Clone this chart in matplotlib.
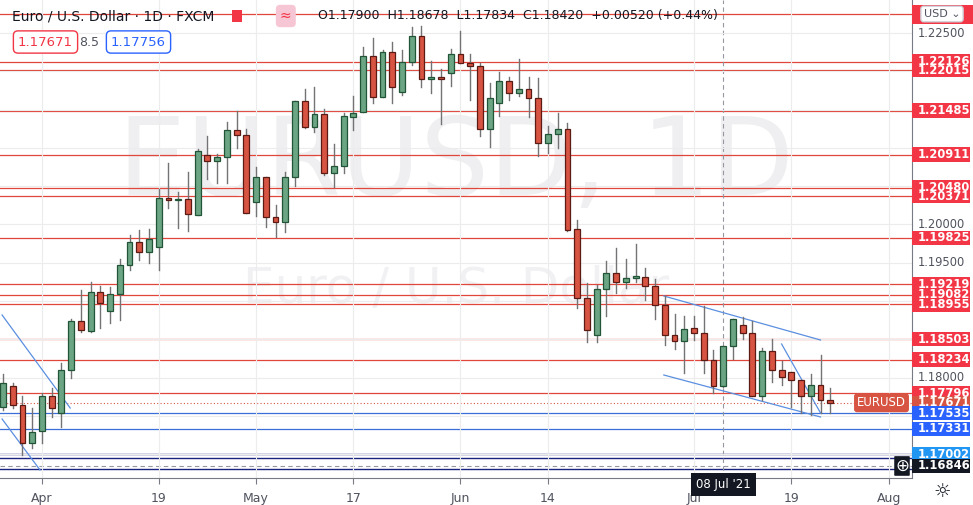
import numpy as np
import matplotlib.pyplot as plt
from matplotlib.patches import Rectangle
import matplotlib.transforms as mtransforms

# EURUSD daily candles, 26 Mar 2021 .. 23 Jul 2021
opens = [1.17616, 1.17891, 1.17643, 1.17146, 1.17303, 1.17760, 1.17538, 1.18100, 1.18739, 1.18609,
         1.19118, 1.18870, 1.19092, 1.19471, 1.19771, 1.19640, 1.19706, 1.20346, 1.20319, 1.20333,
         1.20124, 1.20907, 1.20829, 1.20881, 1.21233, 1.21168, 1.20293, 1.20620, 1.20097, 1.20032,
         1.20620, 1.21612, 1.21273, 1.21442, 1.20672, 1.20763, 1.21403, 1.21469, 1.22200, 1.21664,
         1.22252, 1.21730, 1.22121, 1.22461, 1.21899, 1.21926, 1.21978, 1.22226, 1.22108, 1.22069,
         1.21247, 1.21586, 1.21873, 1.21717, 1.21769, 1.21651, 1.21064, 1.21181, 1.21247, 1.19941,
         1.19040, 1.18557, 1.19157, 1.19366, 1.19249, 1.19301, 1.19314, 1.19196, 1.18948, 1.18557,
         1.18478, 1.18648, 1.18583, 1.18230, 1.17891, 1.18413, 1.18687, 1.18583, 1.17760, 1.18348,
         1.18100, 1.18073, 1.17969, 1.17760, 1.17904, 1.17708]
highs = [1.18047, 1.17930, 1.17760, 1.17603, 1.17799, 1.17865, 1.18191, 1.18766, 1.19144, 1.19249,
         1.19196, 1.19183, 1.19549, 1.19862, 1.19928, 1.19941, 1.20463, 1.20803, 1.20424, 1.20685,
         1.20985, 1.21155, 1.20920, 1.21338, 1.21482, 1.21247, 1.20750, 1.20620, 1.20254, 1.20685,
         1.21612, 1.21769, 1.21795, 1.21508, 1.21051, 1.21455, 1.21677, 1.22317, 1.22435, 1.22278,
         1.22383, 1.22278, 1.22578, 1.22592, 1.22135, 1.22030, 1.22291, 1.22526, 1.22226, 1.22108,
         1.21847, 1.21991, 1.21926, 1.22161, 1.21926, 1.21912, 1.21286, 1.21455, 1.21325, 1.20058,
         1.19236, 1.19210, 1.19523, 1.19693, 1.19549, 1.19745, 1.19431, 1.19288, 1.19066, 1.18831,
         1.18805, 1.18805, 1.18935, 1.18361, 1.18413, 1.18766, 1.18792, 1.18739, 1.18387, 1.18504,
         1.18217, 1.18073, 1.17969, 1.18047, 1.18295, 1.17865]
lows = [1.17577, 1.17603, 1.16990, 1.17081, 1.17146, 1.17486, 1.17355, 1.18000, 1.18596, 1.18596,
        1.18648, 1.18713, 1.18752, 1.19405, 1.19536, 1.19497, 1.19405, 1.20215, 1.19954, 1.19915,
        1.20124, 1.20594, 1.20541, 1.20541, 1.20998, 1.20150, 1.20110, 1.19967, 1.19836, 1.19902,
        1.20502, 1.21260, 1.21207, 1.20646, 1.20489, 1.20672, 1.21233, 1.21469, 1.21586, 1.21664,
        1.21586, 1.21691, 1.22082, 1.21795, 1.21717, 1.21312, 1.21808, 1.22108, 1.21625, 1.21155,
        1.21011, 1.21416, 1.21625, 1.21677, 1.21403, 1.20894, 1.20933, 1.21003, 1.19915, 1.18909,
        1.18465, 1.18465, 1.18805, 1.19105, 1.19170, 1.19249, 1.19014, 1.18766, 1.18426, 1.18374,
        1.18060, 1.18491, 1.18060, 1.17799, 1.17878, 1.18243, 1.18500, 1.17760, 1.17708, 1.17943,
        1.17904, 1.17616, 1.17538, 1.17512, 1.17538, 1.17538]
closes = [1.17930, 1.17643, 1.17146, 1.17290, 1.17760, 1.17603, 1.18100, 1.18739, 1.18622, 1.19118,
          1.18974, 1.19092, 1.19471, 1.19771, 1.19640, 1.19810, 1.20346, 1.20319, 1.20333, 1.20137,
          1.20959, 1.20829, 1.20881, 1.21233, 1.21168, 1.20150, 1.20620, 1.20097, 1.20032, 1.20620,
          1.21612, 1.21273, 1.21442, 1.20672, 1.20763, 1.21416, 1.21455, 1.22200, 1.21664, 1.22252,
          1.21795, 1.22121, 1.22461, 1.21899, 1.21926, 1.21899, 1.22226, 1.22108, 1.22069, 1.21247,
          1.21651, 1.21873, 1.21717, 1.21769, 1.21651, 1.21064, 1.21181, 1.21247, 1.19928, 1.19040,
          1.18622, 1.19157, 1.19366, 1.19249, 1.19301, 1.19327, 1.19196, 1.18948, 1.18557, 1.18478,
          1.18635, 1.18583, 1.18230, 1.17891, 1.18413, 1.18766, 1.18583, 1.17760, 1.18348, 1.18100,
          1.18008, 1.17969, 1.17760, 1.17904, 1.17708, 1.17671]

tick_pos = [4, 16, 26, 36, 47, 56, 71, 81, 91]
tick_lab = ["Apr", "19", "May", "17", "Jun", "14", "Jul", "19", "Aug"]

red_levels = [1.22748, 1.22126, 1.22015, 1.21485, 1.20911, 1.20480, 1.20371, 1.19825,
              1.19219, 1.19082, 1.18955, 1.18503, 1.18234, 1.17796]
blue_levels = [1.17535, 1.17331]
navy_levels = [1.17002, 1.16950, 1.16810]
gray_ticks = [1.22500, 1.20000, 1.19500, 1.18000]
last_price = 1.17671

# blue trend lines: (x0, p0, x1, p1) in bar index / price
trend_lines = [(-0.1, 1.18818, 6.9, 1.17603), (-0.1, 1.17460, 3.8, 1.16794),
               (67.9, 1.19066, 84.0, 1.18491), (67.9, 1.18034, 84.0, 1.17486),
               (80.0, 1.18439, 84.0, 1.17538)]

UP = "#6ba583"; UPE = "#225437"; DN = "#d75442"; DNE = "#5b1a13"
LVL = "#e0463a"; GRID = "#ececec"; TXT = "#131722"

fig = plt.figure(figsize=(9.73, 5.05), dpi=100)
fig.patch.set_facecolor("white")
ax = fig.add_axes([0, 27 / 505, 912 / 973, 478 / 505])
ax.set_xlim(-0.31, 93.4)
ax.set_ylim(1.16689, 1.22931)
for s in ax.spines.values():
    s.set_visible(False)
ax.spines["right"].set_visible(True); ax.spines["right"].set_color("#787b86")
ax.spines["bottom"].set_visible(True); ax.spines["bottom"].set_color("#787b86")
ax.set_xticks(tick_pos); ax.set_xticklabels(tick_lab, fontsize=9, color="#50535e")
ax.tick_params(axis="x", length=4, color="#787b86", pad=6)
ax.set_yticks(np.arange(1.170, 1.2291, 0.005)); ax.set_yticklabels([])
ax.tick_params(axis="y", length=0)
ax.grid(True, color=GRID, lw=0.8, zorder=0)

# watermark
ax.text(0.5, 0.655, "EURUSD, 1D", transform=ax.transAxes, ha="center", va="center",
        fontsize=78, color="#efeff1", zorder=0.5)
ax.text(0.5, 0.395, "Euro / U.S. Dollar", transform=ax.transAxes, ha="center", va="center",
        fontsize=36, color="#f1f1f3", zorder=0.5)

for p in red_levels:
    ax.axhline(p, color=LVL, lw=0.9, zorder=1)
for p in blue_levels:
    ax.axhline(p, color="#3a6fd8", lw=0.9, zorder=1)
for p in navy_levels:
    ax.axhline(p, color="#1a237e", lw=1.0, zorder=1)
ax.axhline(1.16846, color="#9598a1", lw=0.8, ls=(0, (4, 3)), zorder=1)
ax.axvline(74, color="#9598a1", lw=0.8, ls=(0, (4, 3)), zorder=1)
ax.axhline(last_price, color=DN, lw=0.8, ls=(0, (1, 2)), zorder=1)

for x0, p0, x1, p1 in trend_lines:
    ax.plot([x0, x1], [p0, p1], color="#5b8fe0", lw=0.9, zorder=2)

for i, (o, h, l, c) in enumerate(zip(opens, highs, lows, closes)):
    up = c >= o
    ax.plot([i, i], [l, h], color="#737375", lw=1, zorder=3)
    lo, hi = min(o, c), max(o, c)
    ax.add_patch(Rectangle((i - 0.3, lo), 0.6, max(hi - lo, 0.00005),
                           facecolor=UP if up else DN, edgecolor=UPE if up else DNE,
                           lw=0.9, zorder=4))

# right price-scale labels
tr = mtransforms.blended_transform_factory(ax.transAxes, ax.transData)
def plabel(p, txt, fc, tc="white", bold=True):
    if fc:
        ax.add_patch(Rectangle((1.0, p - 0.00095), 58 / 912, 0.0019, transform=tr, fc=fc,
                               ec="none", clip_on=False, zorder=9))
    ax.text(1.0 + 6 / 912, p, txt, transform=tr, ha="left", va="center", fontsize=8.3,
            color=tc, fontweight="bold" if bold else "normal", clip_on=False, zorder=10)

for p in gray_ticks:
    plabel(p, f"{p:.5f}", None, tc="#50535e", bold=False)
for p in red_levels[1:]:
    plabel(p, f"{p:.5f}", "#f23645")
plabel(last_price, f"{last_price:.5f}", DN)
for p in blue_levels:
    plabel(p, f"{p:.5f}", "#2962ff")
plabel(1.17002, "1.17002", "#2196f3")
plabel(1.16846, "1.16846", "#131722")
ax.add_patch(Rectangle((1.0, 1.22620), 61 / 912, 0.0025, transform=tr, fc="#f23645",
                       ec="none", clip_on=False, zorder=9))
ax.text(1.0 + 30 / 912, 1.22748, "USD ⌄", transform=tr, ha="center", va="center", fontsize=8,
        color="#50535e", clip_on=False, zorder=11,
        bbox=dict(boxstyle="round,pad=0.25", fc="white", ec="#d1d4dc"))
ax.text(1.0 - 6 / 912, last_price, "EURUSD", transform=tr, ha="right", va="center",
        fontsize=8.5, color="white", zorder=10,
        bbox=dict(boxstyle="round,pad=0.25", fc=DN, ec="none"))
ax.text(74, 1.16689, "08 Jul '21", ha="center", va="top", fontsize=8.5, color="white",
        clip_on=False, zorder=10,
        bbox=dict(boxstyle="square,pad=0.45", fc="#131722", ec="none"))
ax.text(1.0 - 10 / 912, 1.16846, "⊕", transform=tr, ha="center", va="center", fontsize=12,
        color="white", zorder=10, bbox=dict(boxstyle="round,pad=0.05", fc="#131722", ec="none"))
fig.text(942 / 973, 14 / 505, "☼", ha="center", va="center", fontsize=14, color="#131722")

# header
fig.text(12 / 973, 1 - 16 / 505, "Euro / U.S. Dollar · 1D · FXCM", fontsize=10, color=TXT,
         va="center")
fig.patches.append(Rectangle((232 / 973, 1 - 22 / 505), 10 / 973, 12 / 505,
                             transform=fig.transFigure, fc="#f23645", ec="none"))
fig.text(280 / 973, 1 - 16 / 505, "≈", fontsize=10, color="#f23645", va="center",
         bbox=dict(boxstyle="round,pad=0.3", fc="#f7c6d4", ec="none"))
fig.text(318 / 973, 1 - 16 / 505, "O1.17900  H1.18678  L1.17834  C1.18420  +0.00520 (+0.44%)",
         fontsize=9, color=TXT, va="center")
fig.text(18 / 973, 1 - 42 / 505, "1.17671", fontsize=9.5, color="#f23645", va="center",
         bbox=dict(boxstyle="round,pad=0.35", fc="white", ec="#f23645"))
fig.text(79 / 973, 1 - 42 / 505, "8.5", fontsize=9, color="#50535e", va="center")
fig.text(111 / 973, 1 - 42 / 505, "1.17756", fontsize=9.5, color="#2962ff", va="center",
         bbox=dict(boxstyle="round,pad=0.35", fc="white", ec="#2962ff"))

fig.savefig("out.png", dpi=100, facecolor="white")
